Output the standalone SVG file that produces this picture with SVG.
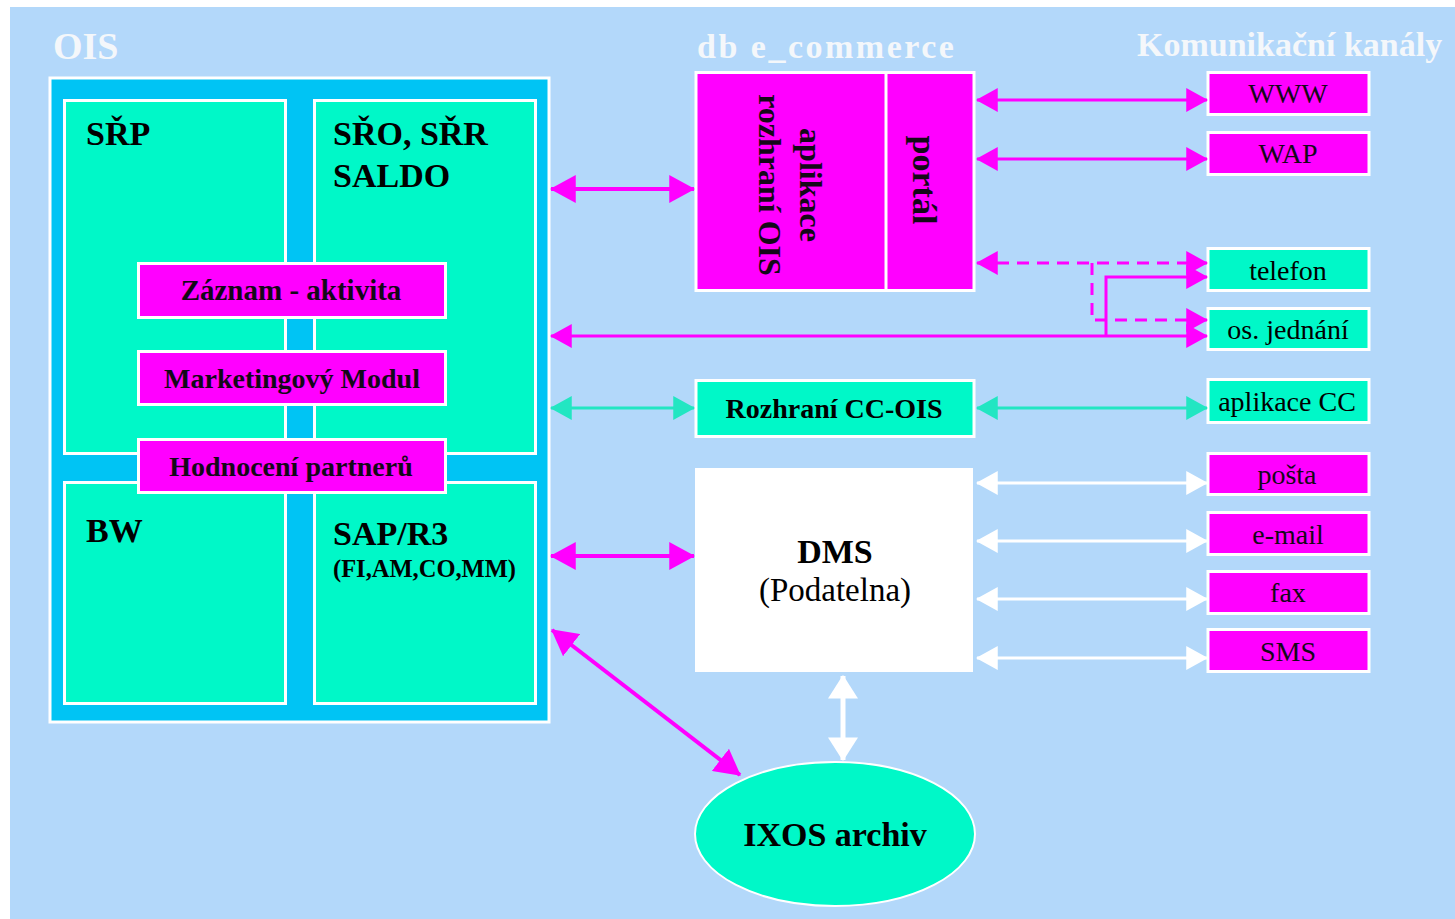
<svg xmlns="http://www.w3.org/2000/svg" width="1455" height="919" viewBox="0 0 1455 919">
<style>
.t{font-family:"Liberation Serif","Times New Roman",serif}
.b{font-weight:bold}
.title{font-family:"Liberation Serif","Times New Roman",serif;font-weight:bold;fill:#F4F7FA}
.aqua{fill:#00F8C8;stroke:#FFFFFF;stroke-width:3}
.mag{fill:#FF00FF;stroke:#FFFFFF;stroke-width:3}
.dk{fill:#140818}
.mid{text-anchor:middle}
.cm{stroke:#FF00FF;fill:none}
.cc{stroke:#22E6C2;fill:none;stroke-width:3}
.cw{stroke:#FFFFFF;fill:none;stroke-width:3}
</style>
<defs>
<marker id="mBig" markerUnits="userSpaceOnUse" markerWidth="26" markerHeight="28" viewBox="0 0 24 26" refX="23" refY="13" orient="auto-start-reverse"><path d="M0,0 L24,13 L0,26 Z" fill="#FF00FF"/></marker>
<marker id="mSm" markerUnits="userSpaceOnUse" markerWidth="22" markerHeight="24" viewBox="0 0 20 22" refX="19" refY="11" orient="auto-start-reverse"><path d="M0,0 L20,11 L0,22 Z" fill="#FF00FF"/></marker>
<marker id="mC" markerUnits="userSpaceOnUse" markerWidth="22" markerHeight="24" viewBox="0 0 20 22" refX="19" refY="11" orient="auto-start-reverse"><path d="M0,0 L20,11 L0,22 Z" fill="#22E6C2"/></marker>
<marker id="mW" markerUnits="userSpaceOnUse" markerWidth="22" markerHeight="24" viewBox="0 0 20 22" refX="19" refY="11" orient="auto-start-reverse"><path d="M0,0 L20,11 L0,22 Z" fill="#FFFFFF"/></marker>
<marker id="mWB" markerUnits="userSpaceOnUse" markerWidth="24" markerHeight="30" viewBox="0 0 22 28" refX="21" refY="14" orient="auto-start-reverse"><path d="M0,0 L22,14 L0,28 Z" fill="#FFFFFF"/></marker>
</defs>
<rect x="0" y="0" width="1455" height="919" fill="#FFFFFF"/>
<rect x="10" y="7" width="1445" height="912" fill="#B3D8FA"/>

<text class="title" x="53" y="59" font-size="38">OIS</text>
<text class="title" x="697" y="58" font-size="34" letter-spacing="2.5">db e_commerce</text>
<text class="title" x="1137" y="56" font-size="34">Komunikační kanály</text>

<g id="ois">
<rect x="50" y="78" width="499" height="644" fill="#00C4F4" stroke="#FFFFFF" stroke-width="3"/>
</g>
<g id="srp">
<rect class="aqua" x="64.5" y="100.5" width="221" height="353"/>
<text class="t b" x="86" y="145" font-size="34">SŘP</text>
</g>
<g id="sro">
<rect class="aqua" x="314.5" y="100.5" width="221" height="353"/>
<text class="t b" x="333" y="145" font-size="34">SŘO, SŘR</text>
<text class="t b" x="333" y="187" font-size="34">SALDO</text>
</g>
<g id="bw">
<rect class="aqua" x="64.5" y="482.5" width="221" height="221"/>
<text class="t b" x="86" y="542" font-size="34">BW</text>
</g>
<g id="sap">
<rect class="aqua" x="314.5" y="482.5" width="221" height="221"/>
<text class="t b" x="333" y="545" font-size="34">SAP/R3</text>
<text class="t b" x="333" y="577" font-size="24.5">(FI,AM,CO,MM)</text>
</g>
<g id="zaznam">
<rect class="mag" x="138.5" y="263.5" width="307" height="54"/>
<text class="t b dk mid" x="291" y="300" font-size="29">Záznam - aktivita</text>
</g>
<g id="marketing">
<rect class="mag" x="138.5" y="351.5" width="307" height="53"/>
<text class="t b dk mid" x="292" y="388" font-size="28">Marketingový Modul</text>
</g>
<g id="hodnoceni">
<rect class="mag" x="138.5" y="439.5" width="307" height="53"/>
<text class="t b dk mid" x="291" y="476" font-size="28">Hodnocení partnerů</text>
</g>

<g id="ecommerce">
<rect class="mag" x="696" y="72.5" width="278" height="218"/>
<line x1="886" y1="72" x2="886" y2="291" stroke="#FFFFFF" stroke-width="3"/>
<g transform="translate(791,185) rotate(90)">
<text class="t b dk mid" x="0" y="-9" font-size="32">aplikace</text>
<text class="t b dk mid" x="0" y="32" font-size="32">rozhraní OIS</text>
</g>
<text class="t b dk mid" transform="translate(913,180) rotate(90)" x="0" y="0" font-size="34">portál</text>
</g>

<g id="rozhrani-cc">
<rect class="aqua" x="696" y="380.5" width="278" height="56"/>
<text class="t b mid" x="834" y="418" font-size="28">Rozhraní CC-OIS</text>
</g>
<g id="dms">
<rect x="695" y="468" width="278" height="204" fill="#FFFFFF"/>
<text class="t b mid" x="835" y="563" font-size="34">DMS</text>
<text class="t mid" x="835" y="601" font-size="33">(Podatelna)</text>
</g>
<g id="ixos">
<ellipse cx="835" cy="834" rx="140" ry="72" fill="#00F8C8" stroke="#FFFFFF" stroke-width="2"/>
<text class="t b mid" x="835" y="846" font-size="34">IXOS archiv</text>
</g>

<g id="ch-www"><rect class="mag" x="1208" y="72.5" width="161" height="42"/><text class="t dk mid" x="1288" y="103" font-size="28">WWW</text></g>
<g id="ch-wap"><rect class="mag" x="1208" y="132.5" width="161" height="42"/><text class="t dk mid" x="1288" y="163" font-size="28">WAP</text></g>
<g id="ch-telefon"><rect class="aqua" x="1208" y="248.5" width="161" height="42"/><text class="t mid" x="1288" y="280" font-size="28">telefon</text></g>
<g id="ch-os"><rect class="aqua" x="1208" y="308.5" width="161" height="41"/><text class="t mid" x="1288" y="339" font-size="28">os. jednání</text></g>
<g id="ch-cc"><rect class="aqua" x="1208" y="379.5" width="161" height="43"/><text class="t mid" x="1287" y="411" font-size="28">aplikace CC</text></g>
<g id="ch-posta"><rect class="mag" x="1208" y="453.5" width="161" height="41"/><text class="t dk mid" x="1287" y="484" font-size="28">pošta</text></g>
<g id="ch-email"><rect class="mag" x="1208" y="512.5" width="161" height="42"/><text class="t dk mid" x="1288" y="544" font-size="28">e-mail</text></g>
<g id="ch-fax"><rect class="mag" x="1208" y="571.5" width="161" height="42"/><text class="t dk mid" x="1288" y="602" font-size="28">fax</text></g>
<g id="ch-sms"><rect class="mag" x="1208" y="629.5" width="161" height="42"/><text class="t dk mid" x="1288" y="661" font-size="28">SMS</text></g>

<g id="connectors">
<line class="cm" x1="551" y1="189" x2="694" y2="189" stroke-width="4" marker-start="url(#mBig)" marker-end="url(#mBig)"/>
<line class="cm" x1="551" y1="556" x2="694" y2="556" stroke-width="4" marker-start="url(#mBig)" marker-end="url(#mBig)"/>
<line class="cm" x1="552" y1="630" x2="740" y2="775" stroke-width="4" marker-start="url(#mBig)" marker-end="url(#mBig)"/>
<line class="cm" x1="977" y1="100" x2="1207" y2="100" stroke-width="3" marker-start="url(#mSm)" marker-end="url(#mSm)"/>
<line class="cm" x1="977" y1="159" x2="1207" y2="159" stroke-width="3" marker-start="url(#mSm)" marker-end="url(#mSm)"/>
<line class="cm" x1="977" y1="263" x2="1207" y2="263" stroke-width="3" stroke-dasharray="12,8" marker-start="url(#mSm)" marker-end="url(#mSm)"/>
<polyline class="cm" points="1092,263 1092,320 1207,320" stroke-width="3" stroke-dasharray="12,8" marker-end="url(#mSm)"/>
<line class="cm" x1="551" y1="336" x2="1207" y2="336" stroke-width="3" marker-start="url(#mSm)" marker-end="url(#mSm)"/>
<polyline class="cm" points="1106,336 1106,277 1207,277" stroke-width="3" marker-end="url(#mSm)"/>
<line class="cc" x1="551" y1="408" x2="694" y2="408" marker-start="url(#mC)" marker-end="url(#mC)"/>
<line class="cc" x1="977" y1="408" x2="1207" y2="408" marker-start="url(#mC)" marker-end="url(#mC)"/>
<line class="cw" x1="977" y1="483" x2="1207" y2="483" marker-start="url(#mW)" marker-end="url(#mW)"/>
<line class="cw" x1="977" y1="541" x2="1207" y2="541" marker-start="url(#mW)" marker-end="url(#mW)"/>
<line class="cw" x1="977" y1="599" x2="1207" y2="599" marker-start="url(#mW)" marker-end="url(#mW)"/>
<line class="cw" x1="977" y1="658" x2="1207" y2="658" marker-start="url(#mW)" marker-end="url(#mW)"/>
<line x1="843" y1="676" x2="843" y2="760" stroke="#FFFFFF" stroke-width="5" marker-start="url(#mWB)" marker-end="url(#mWB)"/>
</g>
</svg>
